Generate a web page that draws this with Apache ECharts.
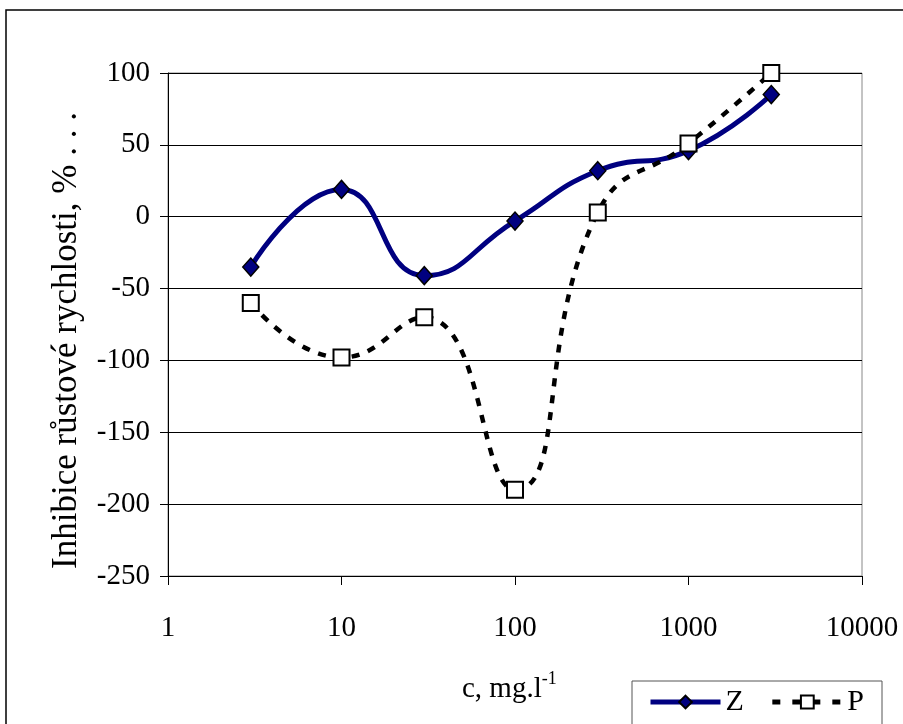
<!DOCTYPE html>
<html>
<head>
<meta charset="utf-8">
<script src="https://cdn.jsdelivr.net/npm/echarts@6/dist/echarts.min.js"></script>
<style>
  html, body { margin: 0; padding: 0; background: #fff; }
  #chart { width: 903px; height: 724px; }
</style>
</head>
<body>
<div id="chart"></div>
<script>
// concentrations c, mg.l-1
const concentrations = [3, 10, 30, 100, 300, 1000, 3000];
// growth-rate inhibition, %
const inhibitionZ = [-35, 19, -41, -3, 32, 46, 85];
const inhibitionP = [-60, -98, -70, -190, 3, 51, 100];

const FONT = '"Liberation Serif", "DejaVu Serif", serif';

const toPairs = (ys) => concentrations.map((c, i) => [c, ys[i]]);

const chart = echarts.init(document.getElementById('chart'), null, { renderer: 'canvas' });

const option = {
  backgroundColor: '#fff',
  animation: false,
  textStyle: { fontFamily: FONT },
  grid: {
    left: 168,
    right: 41,
    top: 73,
    bottom: 148,
    show: true,
    borderColor: '#888',
    borderWidth: 1,
    backgroundColor: 'transparent',
  },
  xAxis: [
    {
      // labels along the bottom
      type: 'log',
      logBase: 10,
      min: 1,
      max: 10000,
      position: 'bottom',
      axisLine: { show: false },
      axisTick: { show: false },
      splitLine: { show: false },
      axisLabel: {
        margin: 38,
        fontSize: 29,
        color: '#000',
        fontFamily: FONT,
        formatter: (v) => String(Math.round(v)),
      },
    },
    {
      // axis line crossing at y = 0
      type: 'log',
      logBase: 10,
      min: 1,
      max: 10000,
      position: 'bottom',
      axisLine: { show: true, onZero: true, lineStyle: { color: '#000', width: 1 } },
      axisTick: { show: true, inside: false, length: 9, lineStyle: { color: '#000', width: 1 } },
      axisLabel: { show: false },
      splitLine: { show: false },
    },
  ],
  yAxis: {
    type: 'value',
    min: -250,
    max: 100,
    interval: 50,
    name: 'Inhibice růstové rychlosti, % . . .',
    nameLocation: 'middle',
    nameGap: 84,
    nameTextStyle: { fontSize: 35, color: '#000', fontFamily: FONT, padding: [0, 32, 0, 0] },
    axisLine: { show: true, lineStyle: { color: '#000', width: 1 } },
    axisTick: { show: true, length: 8, lineStyle: { color: '#000' } },
    axisLabel: { margin: 18, fontSize: 29, color: '#000', fontFamily: FONT },
    splitLine: { show: true, lineStyle: { color: '#000', width: 1 } },
  },
  legend: {
    left: 632,
    top: 681,
    width: 260,
    orient: 'horizontal',
    backgroundColor: '#fff',
    borderColor: '#555',
    borderWidth: 1,
    borderRadius: 0,
    padding: [6, 18, 14, 16],
    itemWidth: 70,
    itemHeight: 16,
    itemGap: 26,
    textStyle: { fontSize: 30, color: '#000', fontFamily: FONT },
    data: [
      { name: 'Z', lineStyle: { width: 5, color: '#000080' } },
      { name: 'P', lineStyle: { width: 5, color: '#000', type: [8, 12] } },
    ],
  },
  graphic: [
    {
      type: 'rect',
      shape: { x: 6, y: 10, width: 920, height: 740 },
      style: { fill: 'none', stroke: '#000', lineWidth: 1.5 },
      silent: true,
      z: -1,
    },
    {
      type: 'text',
      left: 462,
      top: 670,
      style: {
        text: '{a|c, mg.l}{s|-1}',
        rich: {
          a: { fontSize: 29, fontFamily: FONT, fill: '#000', verticalAlign: 'bottom', lineHeight: 34 },
          s: { fontSize: 18, fontFamily: FONT, fill: '#000', verticalAlign: 'top', padding: [0, 0, 15, 0] },
        },
      },
    },
  ],
  series: [
    {
      name: 'Z',
      type: 'line',
      xAxisIndex: 0,
      data: toPairs(inhibitionZ),
      smooth: 0.5,
      symbol: 'diamond',
      symbolSize: [16, 18],
      lineStyle: { color: '#000080', width: 5 },
      itemStyle: { color: '#000080', borderColor: '#000', borderWidth: 1.5 },
      z: 3,
    },
    {
      name: 'P',
      type: 'line',
      xAxisIndex: 0,
      data: toPairs(inhibitionP),
      smooth: 0.5,
      symbol: 'rect',
      symbolSize: 16,
      lineStyle: { color: '#000', width: 4.5, type: [8, 9] },
      itemStyle: { color: '#fff', borderColor: '#000', borderWidth: 2 },
      z: 4,
    },
  ],
};

chart.setOption(option);
window.addEventListener('resize', () => chart.resize());
</script>
</body>
</html>
